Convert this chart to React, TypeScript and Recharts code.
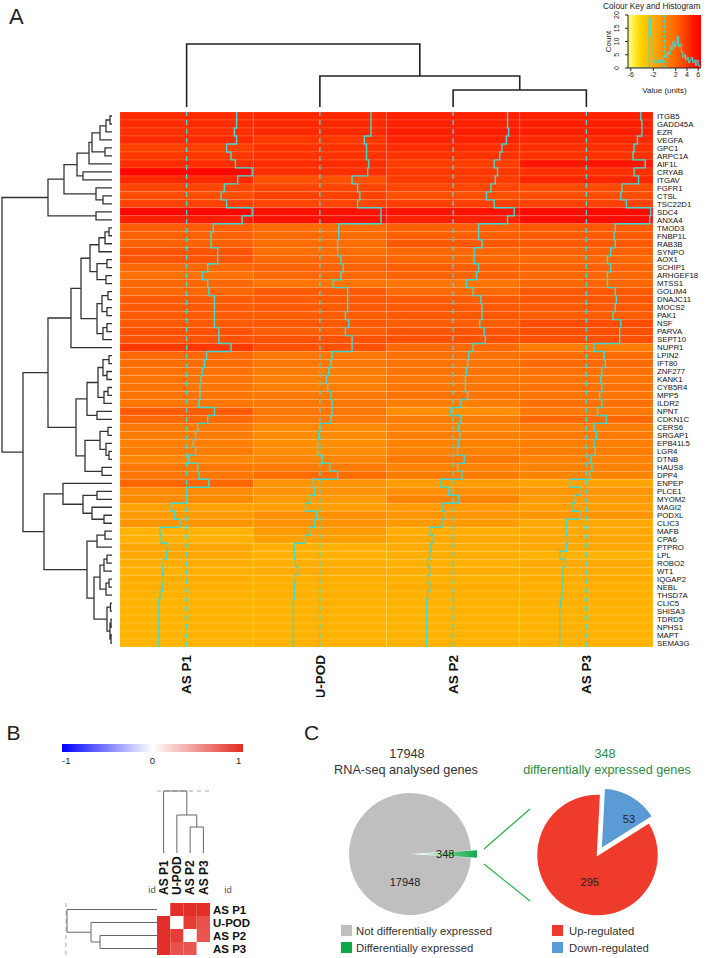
import React from 'react';
import {
  ComposedChart, Bar, Line, XAxis, YAxis, Cell, ReferenceLine, ReferenceArea,
  PieChart, Pie, Label,
} from 'recharts';

const FONT = 'Arial, "Liberation Sans", Helvetica, sans-serif';
const TRACE = '#3fdcd4';

// ---------------- Panel A data ----------------
const SAMPLES = ['AS P1', 'U-POD', 'AS P2', 'AS P3'];

const GENES = ['ITGB5', 'GADD45A', 'EZR', 'VEGFA', 'GPC1', 'ARPC1A', 'AIF1L', 'CRYAB', 'ITGAV', 'FGFR1',
  'CTSL', 'TSC22D1', 'SDC4', 'ANXA4', 'TMOD3', 'FNBP1L', 'RAB3B', 'SYNPO', 'AOX1', 'SCHIP1',
  'ARHGEF18', 'MTSS1', 'GOLIM4', 'DNAJC11', 'MOCS2', 'PAK1', 'NSF', 'PARVA', 'SEPT10', 'NUPR1',
  'LPIN2', 'IFT80', 'ZNF277', 'KANK1', 'CYB5R4', 'MPP5', 'ILDR2', 'NPNT', 'CDKN1C', 'CERS6',
  'SRGAP1', 'EPB41L5', 'LGR4', 'DTNB', 'HAUS8', 'DPP4', 'ENPEP', 'PLCE1', 'MYOM2', 'MAGI2',
  'PODXL', 'CLIC3', 'MAFB', 'CPA6', 'PTPRO', 'LPL', 'ROBO2', 'WT1', 'IQGAP2', 'NEBL',
  'THSD7A', 'CLIC5', 'SHISA3', 'TDRD5', 'NPHS1', 'MAPT', 'SEMA3G'];

const AS_P1 = [4.5, 4.5, 4.3, 4.5, 3.6, 4.0, 4.4, 5.9, 4.6, 3.4,
  3.1, 3.6, 5.9, 5.0, 2.4, 2.2, 2.2, 2.8, 2.8, 1.9,
  1.4, 1.9, 2.0, 2.5, 2.5, 2.5, 2.5, 2.9, 2.9, 4.0,
  1.8, 1.6, 1.4, 1.3, 1.2, 1.2, 1.1, 2.5, 1.9, 1.0,
  0.8, 0.6, 0.8, 0.2, 1.0, 1.1, 2.0, 0.0, 0.0, -1.4,
  -1.1, -0.6, -2.4, -2.3, -1.7, -1.8, -2.1, -2.2, -2.1, -2.2,
  -2.4, -2.5, -2.5, -2.5, -2.5, -2.5, -2.5];
const U_POD = [4.6, 4.6, 4.6, 4.0, 4.2, 4.2, 4.4, 4.3, 2.9, 3.4,
  3.6, 3.4, 5.5, 5.5, 1.7, 1.7, 1.6, 1.6, 1.9, 2.1,
  1.9, 1.2, 2.5, 2.5, 2.5, 2.3, 2.6, 2.3, 2.9, 2.9,
  1.1, 1.0, 0.8, 0.6, 0.7, 1.0, 1.1, 1.1, 1.0, 0.0,
  -0.1, -0.2, -0.2, 0.2, 0.9, 1.6, -0.6, -0.5, -0.9, -1.3,
  -0.3, -0.5, -0.9, -1.3, -2.3, -2.3, -2.2, -2.0, -2.2, -2.3,
  -2.3, -2.4, -2.4, -2.4, -2.4, -2.4, -2.4];
const AS_P2 = [4.9, 4.9, 5.0, 4.8, 4.4, 4.2, 3.7, 4.0, 3.8, 3.4,
  3.0, 3.7, 5.5, 4.9, 2.3, 2.3, 2.6, 1.9, 1.9, 2.3,
  2.1, 1.2, 1.8, 2.5, 2.6, 2.6, 2.4, 2.8, 2.9, 1.8,
  1.4, 1.3, 1.2, 1.1, 1.1, 1.3, 0.7, -0.2, 0.7, 0.5,
  0.6, 0.5, 0.4, 1.0, 0.4, 0.8, -1.1, -0.4, 0.5, -1.0,
  -0.7, -1.0, -2.1, -1.8, -2.0, -2.1, -2.3, -2.1, -2.3, -2.1,
  -2.3, -2.4, -2.4, -2.4, -2.4, -2.4, -2.4];
const AS_P3 = [4.9, 5.0, 5.0, 4.6, 4.3, 4.2, 5.3, 4.3, 4.7, 3.2,
  3.1, 3.6, 5.8, 5.7, 2.6, 2.5, 2.6, 2.2, 1.9, 2.2,
  1.9, 1.9, 2.6, 2.7, 2.6, 2.4, 3.1, 3.0, 3.0, 0.7,
  1.6, 1.7, 1.4, 1.3, 1.4, 1.2, 1.4, 1.0, 1.8, 0.7,
  0.9, 0.7, 0.8, 0.4, 0.5, 0.3, -1.5, -0.6, -1.0, -1.3,
  -0.6, -1.8, -1.8, -1.7, -1.8, -2.4, -1.9, -2.1, -2.1, -2.2,
  -2.2, -2.3, -2.4, -2.4, -2.4, -2.4, -2.4];
const COLUMNS = [AS_P1, U_POD, AS_P2, AS_P3];

const KEY_MIN = -6;
const KEY_MAX = 6;
const KEY_TICKS = [-6, -2, 2, 4, 6];
const COUNT_TICKS = [0, 5, 10, 15, 20];
const HIST_X = [-6.5, -3.0, -2.75, -2.5, -2.25, -2.0, -1.75, -1.5, -1.25, -1.0,
  -0.75, -0.5, -0.25, 0, 0.25, 0.5, 0.75, 1.0, 1.25, 1.5,
  1.75, 2.0, 2.25, 2.5, 2.75, 3.0, 3.25, 3.5, 3.75, 4.0,
  4.25, 4.5, 4.75, 5.0, 5.25, 5.5, 5.75, 6.0, 6.25];
const HIST_COUNT = [0, 0, 19, 12, 6, 2, 3, 2, 3, 2,
  3, 2, 4, 5, 4, 6, 5, 8, 7, 10,
  8, 9, 12, 8, 9, 6, 4, 5, 3, 4,
  2, 3, 4, 2, 3, 1, 3, 1, 0];

type Tree = number | [number, Tree, Tree];

// row dendrogram (leaves = row numbers 1..67, node = [height, left, right])
const ROW_TREE: Tree =
  [110,
    [64,
      [48,
        [35,
          [23,
            [20,
              [12, [6, [2, 1, 2], 3], 4],
              [7, 5, 6]],
            7],
          [29, 8, 9]],
        [16, 10, [9, 11, 12]]],
      [16, 13, 14]],
    [89,
      [64,
        [41,
          [31,
            [22,
              [13, [7, [3, 15, 16], 17], 18],
              [15, [5, 19, 20], [6, 21, 22]]],
            [15,
              [10, [4, 23, 24], [5, 25, 26]],
              [9, [5, 27, 28], 29]]],
          30],
        [36,
          [25,
            [14, [9, [3, 31, 32], [5, 33, 34]], [8, [4, 35, 36], 37]],
            [15, 38, 39]],
          [27,
            [12, [4, 40, 41], [6, 42, [3, 43, 44]]],
            [10, 45, 46]]]],
      [68,
        [49, 47, [29, [15, 48, 49], [20, 50, [8, 51, 52]]]],
        [25,
          [15, [7, 53, 54], 55],
          [18,
            [12, [8, [5, 56, 57], 58], [6, [3, 59, 60], 61]],
            [5, [1.5, 62, 63], [2, [1, 64, 65], [1, 66, 67]]]]]]]];

// column dendrogram (leaves = column index 0..3)
const COL_TREE: Tree = [63, 0, [31, 1, [17, 2, 3]]];

// ---------------- Panel B data ----------------
const CORR_AS_P1 = [null, 0.96, 0.96, 0.96];
const CORR_U_POD = [0.96, null, 0.9, 0.8];
const CORR_AS_P2 = [0.96, 0.9, null, 0.78];
const CORR_AS_P3 = [0.96, 0.8, 0.78, null];
const CORR = [CORR_AS_P1, CORR_U_POD, CORR_AS_P2, CORR_AS_P3];
const CORR_TICKS = [-1, 0, 1];
const CORR_TOP_TREE: Tree = [62, 0, [38, 1, [26, 2, 3]]];
const CORR_LEFT_TREE: Tree = [90, 0, [66, 1, [57, 2, 3]]];

// ---------------- Panel C data ----------------
const ALL_GENES = [
  { name: 'Differentially expressed', value: 348 },
  { name: 'Not differentially expressed', value: 17948 },
];
const DE_GENES = [
  { name: 'Down-regulated', value: 53 },
  { name: 'Up-regulated', value: 295 },
];

// ---------------- helpers ----------------
const HUE_STOPS: number[][] = [[-6, 58], [-2.4, 42], [-0.6, 35], [1.1, 28], [2.4, 22], [4.2, 12], [6, 1]];
function heat(v: number): string {
  const x = Math.max(KEY_MIN, Math.min(KEY_MAX, v));
  let hue = HUE_STOPS[HUE_STOPS.length - 1][1];
  for (let i = 0; i < HUE_STOPS.length - 1; i++) {
    const [a, ha] = HUE_STOPS[i];
    const [b, hb] = HUE_STOPS[i + 1];
    if (x >= a && x <= b) { hue = ha + (hb - ha) * (x - a) / (b - a); break; }
  }
  const g = Math.round(255 * hue / 60);
  const bl = x < -4.5 ? Math.round(110 * (-4.5 - x) / 1.5) : 0;
  return `rgb(255,${g},${bl})`;
}
const frac = (v: number) => (v - KEY_MIN) / (KEY_MAX - KEY_MIN);

function corrColor(r: number | null): string {
  if (r == null) return '#ffffff';
  const t = Math.min(1, Math.abs(r));
  const base = r >= 0 ? [226, 38, 32] : [0, 0, 255];
  const c = base.map((b) => Math.round(255 + (b - 255) * t));
  return `rgb(${c[0]},${c[1]},${c[2]})`;
}

function dendro(tree: Tree, leafPos: (l: number) => number) {
  const pts: { h: number | null; p: number | null }[] = [];
  const walk = (t: Tree): { h: number; p: number } => {
    if (typeof t === 'number') return { h: 0, p: leafPos(t) };
    const [h, l, r] = t;
    const a = walk(l);
    const b = walk(r);
    pts.push({ h: a.h, p: a.p }, { h, p: a.p }, { h, p: b.p }, { h: b.h, p: b.p }, { h: null, p: null });
    return { h, p: (a.p + b.p) / 2 };
  };
  walk(tree);
  return pts;
}

// heatmap.2 style trace: constant within each row, jumps at row boundaries
const rowStep = (context: any) => {
  let pts: number[][] = [];
  return {
    areaStart() {},
    areaEnd() {},
    lineStart() { pts = []; },
    point(x: number, y: number) { pts.push([x, y]); },
    lineEnd() {
      const n = pts.length;
      if (!n) return;
      const half = n > 1 ? (pts[1][1] - pts[0][1]) / 2 : 4;
      context.moveTo(pts[0][0], pts[0][1] - half);
      for (let i = 0; i < n; i++) {
        const [x, y] = pts[i];
        const top = i === 0 ? y - half : (pts[i - 1][1] + y) / 2;
        const bottom = i === n - 1 ? y + half : (y + pts[i + 1][1]) / 2;
        context.lineTo(x, top);
        context.lineTo(x, bottom);
      }
    },
  };
};

const HEAT_ROWS = GENES.map((gene, i) => {
  const row: any = { gene };
  COLUMNS.forEach((col, c) => {
    row[`k${c}`] = 1;
    row[`t${c}`] = c + frac(col[i]);
  });
  return row;
});
const COL_CENTERS = SAMPLES.map((_, i) => i + 0.5);
const HIST = HIST_X.map((v, i) => ({ v, count: HIST_COUNT[i] }));
const ROW_DENDRO = dendro(ROW_TREE, (l) => l - 0.5);
const COL_DENDRO = dendro(COL_TREE, (l) => l + 0.5);
const CORR_ROWS = SAMPLES.map((name) => ({ name, k0: 1, k1: 1, k2: 1, k3: 1 }));
const CORR_TOP = dendro(CORR_TOP_TREE, (l) => l + 0.5);
const CORR_LEFT = dendro(CORR_LEFT_TREE, (l) => l + 0.5);
const CORR_BAR = CORR_TICKS.map((v) => ({ v, y: 0.5 }));

const KEY_STOPS: number[] = [];
for (let v = -6.5; v <= 6.5001; v += 0.5) KEY_STOPS.push(v);

const ColTick = (p: any) => (
  <text x={p.x} y={p.y} transform={`rotate(-90 ${p.x} ${p.y})`} textAnchor="end" dy="0.36em"
    fontSize={13.5} fontWeight="bold" fill="#111" fontFamily={FONT}>
    {SAMPLES[Math.floor(p.payload.value)]}
  </text>
);
const CorrColTick = (p: any) => (
  <text x={p.x} y={p.y} transform={`rotate(-90 ${p.x} ${p.y})`} textAnchor="start" dy="0.36em"
    fontSize={12} fontWeight="bold" fill="#111" fontFamily={FONT}>
    {SAMPLES[Math.floor(p.payload.value)]}
  </text>
);
const KeyYTick = (p: any) => (
  <text x={p.x - 4} y={p.y} transform={`rotate(-90 ${p.x - 4} ${p.y})`} textAnchor="middle"
    fontSize={7} fill="#222" fontFamily={FONT}>
    {p.payload.value}
  </text>
);

// ---------------- pie helpers ----------------
const ALL_TOTAL = ALL_GENES.reduce((s, d) => s + d.value, 0);
const ALL_START = (ALL_GENES[0].value / ALL_TOTAL) * 180;
const DE_TOTAL = DE_GENES.reduce((s, d) => s + d.value, 0);
const DE_START = 87;
const DE_MID = DE_START - (DE_GENES[0].value / DE_TOTAL) * 180;
const EXPLODE_L = 6;
const EXPLODE_R = 7;
const rad = Math.PI / 180;

const LEFT_LABELS = [{ angle: 0, r: 0.48 }, { angle: -100, r: 0.47 }];
const RIGHT_LABELS = [{ angle: 47, r: 0.67 }, { angle: -106, r: 0.46 }];

const pieLabel = (which: number, pos: { angle: number; r: number }[]) => (p: any) => {
  if (p.index !== which) return null;
  const a = pos[which].angle * rad;
  const rr = pos[which].r * p.outerRadius;
  return (
    <text x={p.cx + rr * Math.cos(a)} y={p.cy - rr * Math.sin(a)} textAnchor="middle" dominantBaseline="central"
      fontSize={11} fill="#222" fontFamily={FONT}>
      {p.value}
    </text>
  );
};

const GREY = '#bfbfbf';
const GREEN = '#12a84a';
const RED = '#ee3b2b';
const BLUE = '#5b9bd5';

export default function App() {
  return (
    <div style={{ position: 'absolute', left: 0, top: 0, width: 709, height: 958, background: '#fff', overflow: 'hidden', fontFamily: FONT }}>
      {/* ---------- Panel A: row dendrogram ---------- */}
      <div style={{ position: 'absolute', left: 0, top: 110 }}>
        <ComposedChart width={114} height={539} data={ROW_DENDRO} margin={{ top: 2, right: 2, bottom: 2, left: 2 }}>
          <XAxis type="number" dataKey="h" domain={[0, 110]} reversed hide />
          <YAxis type="number" domain={[0, 67]} reversed hide />
          <Line dataKey="p" stroke="#333" strokeWidth={1.3} dot={false} isAnimationActive={false} type="linear" />
        </ComposedChart>
      </div>

      {/* ---------- Panel A: column dendrogram ---------- */}
      <div style={{ position: 'absolute', left: 118, top: 38 }}>
        <ComposedChart width={537} height={71} data={COL_DENDRO} margin={{ top: 2, right: 2, bottom: 2, left: 2 }}>
          <XAxis type="number" dataKey="p" domain={[0, 4]} hide />
          <YAxis type="number" domain={[0, 67]} hide />
          <Line dataKey="h" stroke="#222" strokeWidth={1.6} dot={false} isAnimationActive={false} type="linear" />
        </ComposedChart>
      </div>

      {/* ---------- Panel A: heatmap ---------- */}
      <div style={{ position: 'absolute', left: 120, top: 112 }}>
        <ComposedChart layout="vertical" width={585} height={585} data={HEAT_ROWS}
          margin={{ top: 0, right: 0, bottom: 0, left: 0 }} barCategoryGap={0} barGap={0}>
          <XAxis type="number" domain={[0, 4]} ticks={COL_CENTERS} height={50} axisLine={false} tickLine={false}
            tick={<ColTick />} interval={0} />
          <YAxis type="category" dataKey="gene" orientation="right" width={52} axisLine={false} tickLine={false}
            tickSize={3} tickMargin={1} interval={0}
            tick={{ fontSize: 7.8, fill: '#111', fontFamily: FONT }} />
          {COLUMNS.map((col, c) => (
            <Bar key={`b${c}`} dataKey={`k${c}`} stackId="h" isAnimationActive={false}>
              {col.map((v, i) => (
                <Cell key={i} fill={heat(v)} stroke="rgba(255,255,255,0.22)" strokeWidth={0.6} />
              ))}
            </Bar>
          ))}
          {COL_CENTERS.map((x) => (
            <ReferenceLine key={`r${x}`} x={x} stroke={TRACE} strokeDasharray="5 4" strokeWidth={1.3} />
          ))}
          {COLUMNS.map((_, c) => (
            <Line key={`t${c}`} dataKey={`t${c}`} type={rowStep as any} stroke={TRACE} strokeWidth={1.4}
              dot={false} isAnimationActive={false} />
          ))}
        </ComposedChart>
      </div>

      {/* ---------- Panel A: colour key ---------- */}
      <div style={{ position: 'absolute', left: 596, top: 10 }}>
        <ComposedChart width={110} height={90} data={HIST} margin={{ top: 5, right: 5, bottom: 0, left: 0 }}>
          <defs>
            <linearGradient id="keyGrad" x1="0" y1="0" x2="1" y2="0">
              {KEY_STOPS.map((v) => (
                <stop key={v} offset={(v + 6.5) / 13} stopColor={heat(v)} />
              ))}
            </linearGradient>
          </defs>
          <XAxis type="number" dataKey="v" domain={[-6.5, 6.5]} ticks={KEY_TICKS} height={32} tickSize={3} tickMargin={1}
            interval={0} allowDataOverflow stroke="#222" tick={{ fontSize: 7, fill: '#222', fontFamily: FONT }}>
            <Label value="Value (units)" position="insideBottom" offset={7} style={{ fontSize: 8, fill: '#222', fontFamily: FONT }} />
          </XAxis>
          <YAxis type="number" domain={[0, 20]} ticks={COUNT_TICKS} width={32} tickSize={3} interval={0}
            allowDataOverflow stroke="#222" tick={<KeyYTick />}>
            <Label value="Count" angle={-90} position="insideLeft" offset={12}
              style={{ fontSize: 8, fill: '#222', fontFamily: FONT, textAnchor: 'middle' }} />
          </YAxis>
          <ReferenceArea x1={-6.5} x2={6.5} y1={0} y2={20} fill="url(#keyGrad)" fillOpacity={1} stroke="none" />
          <ReferenceLine x={0} stroke={TRACE} strokeDasharray="3 2" strokeWidth={1} />
          <Line dataKey="count" type="stepAfter" stroke={TRACE} strokeWidth={1} dot={false} isAnimationActive={false} />
        </ComposedChart>
      </div>

      {/* ---------- Panel B: colour bar ---------- */}
      <div style={{ position: 'absolute', left: 62, top: 744 }}>
        <ComposedChart width={181} height={28} data={CORR_BAR} margin={{ top: 0, right: 0, bottom: 0, left: 0 }}>
          <defs>
            <linearGradient id="corrGrad" x1="0" y1="0" x2="1" y2="0">
              <stop offset="0" stopColor="#0000ff" />
              <stop offset="0.5" stopColor="#ffffff" />
              <stop offset="1" stopColor="#e32a22" />
            </linearGradient>
          </defs>
          <XAxis type="number" dataKey="v" domain={[-1.05, 1.05]} ticks={CORR_TICKS} height={20} axisLine={false}
            tickLine={false} tickSize={3} tickMargin={2} interval={0} allowDataOverflow
            tick={{ fontSize: 9.5, fill: '#222', fontFamily: FONT }} />
          <YAxis type="number" domain={[0, 1]} hide allowDataOverflow />
          <ReferenceArea x1={-1.05} x2={1.05} y1={0} y2={1} fill="url(#corrGrad)" fillOpacity={1} stroke="none" ifOverflow="visible" />
          <Line dataKey="y" stroke="none" dot={false} isAnimationActive={false} />
        </ComposedChart>
      </div>

      {/* ---------- Panel B: top dendrogram ---------- */}
      <div style={{ position: 'absolute', left: 155, top: 789 }}>
        <ComposedChart width={57} height={66} data={CORR_TOP} margin={{ top: 2, right: 2, bottom: 2, left: 2 }}>
          <XAxis type="number" dataKey="p" domain={[0, 4]} hide />
          <YAxis type="number" domain={[0, 62]} hide />
          <ReferenceLine y={62} stroke="#aaa" strokeDasharray="4 4" strokeWidth={1} />
          <Line dataKey="h" stroke="#666" strokeWidth={1} dot={false} isAnimationActive={false} type="linear" />
        </ComposedChart>
      </div>

      {/* ---------- Panel B: left dendrogram ---------- */}
      <div style={{ position: 'absolute', left: 64, top: 901 }}>
        <ComposedChart width={95} height={56} data={CORR_LEFT} margin={{ top: 2, right: 2, bottom: 2, left: 2 }}>
          <XAxis type="number" dataKey="h" domain={[0, 91]} reversed hide />
          <YAxis type="number" domain={[0, 4]} reversed hide />
          <ReferenceLine x={91} stroke="#aaa" strokeDasharray="4 4" strokeWidth={1} />
          <Line dataKey="p" stroke="#666" strokeWidth={1} dot={false} isAnimationActive={false} type="linear" />
        </ComposedChart>
      </div>

      {/* ---------- Panel B: correlation matrix ---------- */}
      <div style={{ position: 'absolute', left: 157, top: 853 }}>
        <ComposedChart layout="vertical" width={113} height={102} data={CORR_ROWS}
          margin={{ top: 0, right: 0, bottom: 0, left: 0 }} barCategoryGap={0} barGap={0}>
          <XAxis type="number" orientation="top" domain={[0, 4]} ticks={COL_CENTERS} height={50} axisLine={false}
            tickLine={false} interval={0} tick={<CorrColTick />} />
          <YAxis type="category" dataKey="name" orientation="right" width={60} axisLine={false} tickLine={false}
            tickSize={2} tickMargin={1} interval={0}
            tick={{ fontSize: 11.5, fontWeight: 'bold', fill: '#111', fontFamily: FONT }} />
          {SAMPLES.map((_, c) => (
            <Bar key={`cb${c}`} dataKey={`k${c}`} stackId="c" isAnimationActive={false}>
              {CORR.map((row, i) => (
                <Cell key={i} fill={corrColor(row[c])} />
              ))}
            </Bar>
          ))}
        </ComposedChart>
      </div>

      {/* ---------- Panel C: left pie ---------- */}
      <div style={{ position: 'absolute', left: 340, top: 784 }}>
        <PieChart width={145} height={140} margin={{ top: 0, right: 0, bottom: 0, left: 0 }}>
          <defs>
            <linearGradient id="deGrad" x1="0" y1="0" x2="1" y2="0">
              <stop offset="0" stopColor="#ffffff" />
              <stop offset="0.45" stopColor="#7fd39a" />
              <stop offset="1" stopColor={GREEN} />
            </linearGradient>
          </defs>
          <Pie data={ALL_GENES} dataKey="value" nameKey="name" cx={70} cy={70} outerRadius={61}
            startAngle={ALL_START} endAngle={ALL_START - 360} isAnimationActive={false}
            label={pieLabel(1, LEFT_LABELS)} labelLine={false}>
            <Cell fill="transparent" stroke="none" />
            <Cell fill={GREY} stroke="none" />
          </Pie>
          <Pie data={ALL_GENES} dataKey="value" nameKey="name" cx={70 + EXPLODE_L} cy={70} outerRadius={61}
            startAngle={ALL_START} endAngle={ALL_START - 360} isAnimationActive={false}
            label={pieLabel(0, LEFT_LABELS)} labelLine={false}>
            <Cell fill="url(#deGrad)" stroke="none" />
            <Cell fill="transparent" stroke="none" />
          </Pie>
        </PieChart>
      </div>

      {/* ---------- Panel C: right pie ---------- */}
      <div style={{ position: 'absolute', left: 527, top: 785 }}>
        <PieChart width={141} height={140} margin={{ top: 0, right: 0, bottom: 0, left: 0 }}>
          <Pie data={DE_GENES} dataKey="value" nameKey="name" cx={70.5} cy={70} outerRadius={61}
            startAngle={DE_START} endAngle={DE_START - 360} isAnimationActive={false}
            label={pieLabel(1, RIGHT_LABELS)} labelLine={false}>
            <Cell fill="transparent" stroke="none" />
            <Cell fill={RED} stroke="#fff" strokeWidth={1.5} />
          </Pie>
          <Pie data={DE_GENES} dataKey="value" nameKey="name"
            cx={70.5 + EXPLODE_R * Math.cos(DE_MID * rad)} cy={70 - EXPLODE_R * Math.sin(DE_MID * rad)}
            outerRadius={61} startAngle={DE_START} endAngle={DE_START - 360} isAnimationActive={false}
            label={pieLabel(0, RIGHT_LABELS)} labelLine={false}>
            <Cell fill={BLUE} stroke="#fff" strokeWidth={1.5} />
            <Cell fill="transparent" stroke="none" />
          </Pie>
        </PieChart>
      </div>

      {/* ---------- text, legends, connectors ---------- */}
      <svg width={709} height={958} style={{ position: 'absolute', left: 0, top: 0, pointerEvents: 'none' }} fontFamily={FONT}>
        <text x={9} y={24} fontSize={22} fill="#222">A</text>
        <text x={603} y={8.5} fontSize={8.3} fill="#222">Colour Key and Histogram</text>
        <text x={6.5} y={740} fontSize={21} fill="#222">B</text>
        <text x={152} y={893} fontSize={9.5} fill="#555" textAnchor="middle">id</text>
        <text x={228} y={893} fontSize={9.5} fill="#555" textAnchor="middle">id</text>
        <text x={304} y={740} fontSize={21} fill="#222">C</text>

        <text x={407} y={757.5} fontSize={12.7} fill="#333" textAnchor="middle">{ALL_TOTAL - ALL_GENES[0].value}</text>
        <text x={406} y={773.5} fontSize={12.7} fill="#333" textAnchor="middle">RNA-seq analysed genes</text>
        <text x={605} y={757.5} fontSize={12.7} fill="#2e8b3f" textAnchor="middle">{ALL_GENES[0].value}</text>
        <text x={607} y={773.5} fontSize={12.7} fill="#2e8b3f" textAnchor="middle">differentially expressed genes</text>

        <line x1={484} y1={849} x2={530} y2={809} stroke="#2db34a" strokeWidth={1.2} />
        <line x1={484} y1={864} x2={530} y2={901} stroke="#2db34a" strokeWidth={1.2} />

        <rect x={341} y={925} width={11} height={11} fill={GREY} />
        <text x={356} y={935} fontSize={11.3} fill="#333">{ALL_GENES[1].name}</text>
        <rect x={341} y={942} width={11} height={11} fill={GREEN} />
        <text x={356} y={952} fontSize={11.3} fill="#333">{ALL_GENES[0].name}</text>
        <rect x={552} y={925} width={11} height={11} fill={RED} />
        <text x={569} y={935} fontSize={11.3} fill="#333">{DE_GENES[1].name}</text>
        <rect x={552} y={942} width={11} height={11} fill={BLUE} />
        <text x={569} y={952} fontSize={11.3} fill="#333">{DE_GENES[0].name}</text>
      </svg>
    </div>
  );
}
